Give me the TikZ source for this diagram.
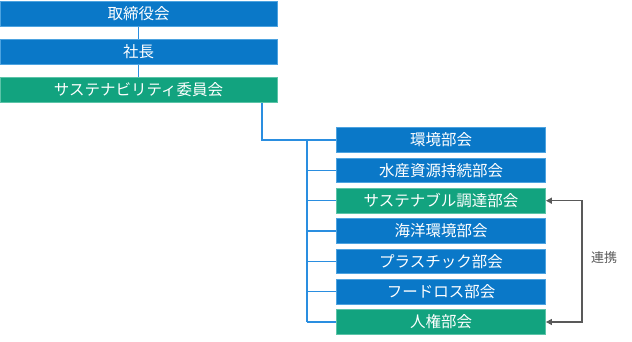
\documentclass[tikz,border=0pt]{standalone}
\usepackage{fontspec}
\newfontfamily\jp{Noto Sans CJK JP}
\usetikzlibrary{arrows.meta}
\definecolor{bluebox}{HTML}{0A78C8}
\definecolor{blueedge}{HTML}{4DA3E0}
\definecolor{greenbox}{HTML}{12A37F}
\definecolor{greenedge}{HTML}{5CC4A8}
\definecolor{linkblue}{HTML}{2A8EE0}
\definecolor{graytxt}{HTML}{595959}
\tikzset{
  x=1pt, y=-1pt,
  bbox/.style={fill=bluebox, draw=blueedge, line width=0.8pt, text=white, font=\jp\fontsize{15.5}{17}\selectfont, inner sep=0pt, anchor=center},
  gbox/.style={bbox, fill=greenbox, draw=greenedge},
  topw/.style={minimum width=277pt, minimum height=24.5pt},
  subw/.style={minimum width=209pt, minimum height=24.5pt},
  conn/.style={draw=linkblue, line width=1.4pt},
  link/.style={draw=graytxt, line width=1.4pt, -{Triangle[length=6pt,width=6pt]}},
}
\begin{document}
\begin{tikzpicture}
\useasboundingbox (0,0) rectangle (632,342);
\node[bbox,topw] (a) at (138.5,14) {取締役会};
\node[bbox,topw] (b) at (138.5,52) {社長};
\node[gbox,topw] (c) at (138.5,90) {サステナビリティ委員会};
\node[bbox,subw] (s1) at (441,140) {環境部会};
\node[bbox,subw] (s2) at (441,170.3) {水産資源持続部会};
\node[gbox,subw] (s3) at (441,200.7) {サステナブル調達部会};
\node[bbox,subw] (s4) at (441,231) {海洋環境部会};
\node[bbox,subw] (s5) at (441,261.3) {プラスチック部会};
\node[bbox,subw] (s6) at (441,291.7) {フードロス部会};
\node[gbox,subw] (s7) at (441,322) {人権部会};
\coordinate (c1) at (262,90);
\coordinate (bus) at (307,140);
\coordinate (busend) at (307,322);
\coordinate (lk) at (582,0);
\path[conn] (a.south) -- (b.north);
\path[conn] (b.south) -- (c.north);
\path[conn] (c1 |- c.south) -- (c1 |- s1.west) -- (s1.west);
\path[conn] (bus) -- (busend);
\foreach \s in {s2,s3,s4,s5,s6,s7} {\path[conn] (bus |- \s.west) -- (\s.west);}
\path[link] (lk |- s3.east) -- (lk |- s7.east) -- (s7.east);
\path[link] (lk |- s7.east) -- (lk |- s3.east) -- (s3.east);
\node[text=graytxt, font=\jp\fontsize{13}{15}\selectfont, anchor=center] (lbl) at (604,258) {連携};
\end{tikzpicture}
\end{document}
